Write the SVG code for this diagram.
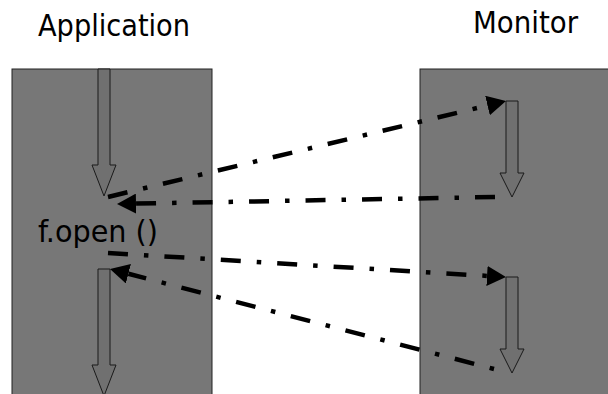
<svg xmlns="http://www.w3.org/2000/svg" width="608" height="394" viewBox="0 0 608 394">
  <style>
    .lane { fill: #777777; stroke: #222222; stroke-width: 1; }
    .flow { fill: #707070; stroke: #1a1a1a; stroke-width: 1; }
    .msg { fill: none; stroke: #000000; stroke-width: 4.5; stroke-dasharray: 20 16 4.5 16; marker-end: url(#head); }
    .label { font-family: "DejaVu Sans Condensed", "DejaVu Sans", sans-serif; font-size: 31px; fill: #000000; }
  </style>
  <defs>
    <marker id="head" markerUnits="userSpaceOnUse" viewBox="0 -10 19 20" refX="0" refY="0" markerWidth="19" markerHeight="20" orient="auto">
      <path d="M0,-10 L19,0 L0,10 Z" fill="#000000"/>
    </marker>
  </defs>
  <rect width="608" height="394" fill="#ffffff"/>

  <g id="application">
    <rect class="lane" x="12" y="69" width="200" height="340"/>
    <text class="label" x="38" y="36" textLength="152" lengthAdjust="spacingAndGlyphs">Application</text>
  </g>

  <g id="monitor">
    <rect class="lane" x="420" y="69" width="200" height="340"/>
    <text class="label" x="473" y="33" textLength="105" lengthAdjust="spacingAndGlyphs">Monitor</text>
  </g>

  <g id="app-flow-before">
    <polygon class="flow" points="98,69 110,69 110,165 116,165 104,196 92,165 98,165"/>
  </g>

  <g id="call-label">
    <text class="label" x="38" y="242" font-size="32" textLength="120" lengthAdjust="spacingAndGlyphs">f.open ()</text>
  </g>

  <g id="app-flow-after">
    <polygon class="flow" points="98,269 110,269 110,365 116,365 104,396 92,365 98,365"/>
  </g>

  <g id="monitor-pre">
    <polygon class="flow" points="506,101 518,101 518,173 524,173 512,197 500,173 506,173"/>
  </g>

  <g id="monitor-post">
    <polygon class="flow" points="506,277 518,277 518,349 524,349 512,373 500,349 506,349"/>
  </g>

  <g id="connectors">
    <path class="msg" d="M108,197 L487.5,105.5"/>
    <path class="msg" d="M495,197 L136,203.6"/>
    <path class="msg" d="M108,253 L487,275.9"/>
    <path class="msg" d="M494,369 L128.4,273.8" stroke-dashoffset="36"/>
  </g>
</svg>
